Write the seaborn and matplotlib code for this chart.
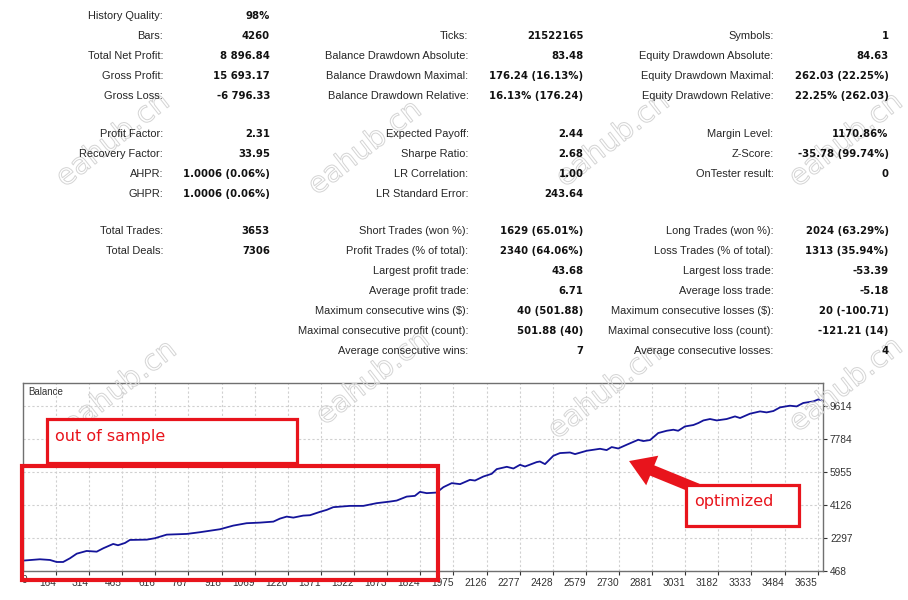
import matplotlib
matplotlib.use("Agg")
import matplotlib.pyplot as plt
import matplotlib.patheffects as pe
from matplotlib.patches import Rectangle, FancyArrowPatch
import pandas as pd
import seaborn as sns

# ---------------- data ----------------
trade_no = [0, 90, 136, 166, 196, 227, 258, 303, 349, 379, 424, 446, 478, 500, 577, 614,
            668, 759, 819, 911, 971, 1032, 1093, 1154, 1184, 1215, 1245, 1290, 1321, 1366,
            1397, 1427, 1503, 1564, 1625, 1685, 1716, 1762, 1799, 1822, 1853, 1898, 1929,
            1967, 2005, 2050, 2073, 2111, 2149, 2172, 2218, 2248, 2278, 2301, 2354, 2369,
            2392, 2430, 2460, 2506, 2529, 2582, 2643, 2673, 2696, 2726, 2764, 2817, 2840,
            2871, 2908, 2947, 2977, 2999, 3030, 3068, 3091, 3114, 3144, 3175, 3220, 3258,
            3281, 3326, 3372, 3402, 3433, 3463, 3508, 3539, 3569, 3615, 3638, 3653]
balance = [1030, 1117, 1078, 967, 967, 1172, 1427, 1577, 1538, 1726, 1965, 1893, 2020, 2186,
           2203, 2281, 2480, 2519, 2613, 2779, 2979, 3112, 3145, 3200, 3367, 3478, 3422,
           3533, 3555, 3738, 3849, 3999, 4071, 4071, 4221, 4309, 4365, 4586, 4625, 4847,
           4775, 4808, 5107, 5329, 5274, 5512, 5473, 5695, 5845, 6105, 6233, 6139, 6343,
           6249, 6493, 6527, 6382, 6842, 6992, 7025, 6936, 7120, 7230, 7158, 7325, 7247,
           7452, 7729, 7657, 7713, 8101, 8228, 8284, 8228, 8467, 8544, 8655, 8799, 8877,
           8799, 8877, 9021, 8932, 9170, 9298, 9243, 9320, 9520, 9614, 9575, 9764, 9852,
           9963, 9908]

x_tick_labels = [0, 164, 314, 465, 616, 767, 918, 1069, 1220, 1371, 1522, 1673, 1824,
                 1975, 2126, 2277, 2428, 2579, 2730, 2881, 3031, 3182, 3333, 3484, 3635]
y_tick_labels = [468, 2297, 4126, 5955, 7784, 9614]

# report rows: (label, value); None = empty row
report_col1 = [("History Quality:", "98%"), ("Bars:", "4260"),
               ("Total Net Profit:", "8 896.84"), ("Gross Profit:", "15 693.17"),
               ("Gross Loss:", "-6 796.33"),
               ("Profit Factor:", "2.31"), ("Recovery Factor:", "33.95"),
               ("AHPR:", "1.0006 (0.06%)"), ("GHPR:", "1.0006 (0.06%)"),
               ("Total Trades:", "3653"), ("Total Deals:", "7306"),
               None, None, None, None, None]
report_col2 = [None, ("Ticks:", "21522165"),
               ("Balance Drawdown Absolute:", "83.48"),
               ("Balance Drawdown Maximal:", "176.24 (16.13%)"),
               ("Balance Drawdown Relative:", "16.13% (176.24)"),
               ("Expected Payoff:", "2.44"), ("Sharpe Ratio:", "2.68"),
               ("LR Correlation:", "1.00"), ("LR Standard Error:", "243.64"),
               ("Short Trades (won %):", "1629 (65.01%)"),
               ("Profit Trades (% of total):", "2340 (64.06%)"),
               ("Largest profit trade:", "43.68"), ("Average profit trade:", "6.71"),
               ("Maximum consecutive wins ($):", "40 (501.88)"),
               ("Maximal consecutive profit (count):", "501.88 (40)"),
               ("Average consecutive wins:", "7")]
report_col3 = [None, ("Symbols:", "1"),
               ("Equity Drawdown Absolute:", "84.63"),
               ("Equity Drawdown Maximal:", "262.03 (22.25%)"),
               ("Equity Drawdown Relative:", "22.25% (262.03)"),
               ("Margin Level:", "1170.86%"), ("Z-Score:", "-35.78 (99.74%)"),
               ("OnTester result:", "0"), None,
               ("Long Trades (won %):", "2024 (63.29%)"),
               ("Loss Trades (% of total):", "1313 (35.94%)"),
               ("Largest loss trade:", "-53.39"), ("Average loss trade:", "-5.18"),
               ("Maximum consecutive losses ($):", "20 (-100.71)"),
               ("Maximal consecutive loss (count):", "-121.21 (14)"),
               ("Average consecutive losses:", "4")]

chart_title = "Balance"
note_oos = "out of sample"
note_opt = "optimized"
watermark = "eahub.cn"

# ---------------- layout ----------------
W, H = 908, 600
sns.set_theme(style="white")
plt.rcParams["font.family"] = ["Liberation Sans", "DejaVu Sans"]

fig = plt.figure(figsize=(W / 100, H / 100), dpi=100)
fig.patch.set_facecolor("white")


def fx(x):
    return x / W


def fy(y):
    return 1 - y / H


# ---------------- watermarks (faint outlines, behind everything) ----------------
for wx, wy in [(113, 140), (365, 148), (613, 140), (846, 140),
               (120, 388), (373, 378), (605, 392), (846, 385)]:
    fig.text(fx(wx), fy(wy), watermark, rotation=38, ha="center", va="center",
             fontsize=21, color="none", family=["DejaVu Sans"], zorder=0.5,
             path_effects=[pe.Stroke(linewidth=0.7, foreground="#d4d4d4")])

row_y = [15, 35, 55, 75, 95, 132.7, 152.7, 172.7, 192.7, 230, 250, 270, 290, 310, 330, 350]
col_pos = [(163, 270), (468.5, 583.5), (773.5, 888.5)]
for col, (lx, vx) in zip([report_col1, report_col2, report_col3], col_pos):
    for r, item in enumerate(col):
        if item is None:
            continue
        lab, val = item
        fig.text(fx(lx), fy(row_y[r]), lab, ha="right", va="center_baseline",
                 fontsize=7.9, color="#262626", family=["Liberation Sans"], zorder=3)
        fig.text(fx(vx), fy(row_y[r]), val, ha="right", va="center_baseline",
                 fontsize=7.3, color="#111111", fontweight="bold",
                 family=["DejaVu Sans"], zorder=3)

# ---------------- chart ----------------
ax_l, ax_r, ax_t, ax_b = 23, 823, 383.3, 571
ax = fig.add_axes([fx(ax_l), fy(ax_b), (ax_r - ax_l) / W, (ax_b - ax_t) / H])
ax.patch.set_alpha(0.0)
df = pd.DataFrame({"trade": trade_no, "balance": balance})
sns.lineplot(data=df, x="trade", y="balance", ax=ax, color="#14149a",
             linewidth=1.3, estimator=None, sort=True)
ax.set_xlim(13, 3659)
ax.set_ylim(468, 10853)
ax.set_xlabel("")
ax.set_ylabel("")

ax.set_xticks(x_tick_labels[1:])
ax.set_xticklabels([str(v) for v in x_tick_labels[1:]], ha="right")
ax.set_yticks(y_tick_labels)
ax.set_yticklabels([str(v) for v in y_tick_labels])
ax.yaxis.tick_right()
ax.tick_params(axis="x", direction="out", length=3, width=0.8, pad=2,
               labelsize=7.3, colors="#333333", bottom=True)
ax.tick_params(axis="y", direction="out", length=3, width=0.8, pad=2,
               labelsize=7.3, colors="#333333", right=True, left=False)
ax.text(fx(22), fy(580), str(x_tick_labels[0]), transform=fig.transFigure,
        ha="left", va="center", fontsize=7.3, color="#333333")
ax.grid(True, color="#d0d0d0", linestyle=(0, (2, 2)), linewidth=0.8)
for s in ax.spines.values():
    s.set_color("#707070")
    s.set_linewidth(1.0)
ax.text(0.006, 0.955, chart_title, transform=ax.transAxes, ha="left", va="center",
        fontsize=7, color="#333333")

# ---------------- annotations ----------------
red = "#e8141c"

arrow = FancyArrowPatch((fx(700), fy(490)), (fx(626.5), fy(460)),
                        transform=fig.transFigure,
                        arrowstyle="simple,head_width=2.3,head_length=1.8,tail_width=0.8",
                        mutation_scale=10, color=red, linewidth=0, zorder=8)
fig.add_artist(arrow)


def box(x0, y0, x1, y1, lw, fill, z):
    fig.add_artist(Rectangle((fx(x0), fy(y1)), (x1 - x0) / W, (y1 - y0) / H,
                             transform=fig.transFigure,
                             facecolor="white" if fill else "none",
                             edgecolor=red, linewidth=lw, zorder=z))


box(47, 418.5, 297, 462.5, 2.3, True, 9)
box(21.5, 466, 437.5, 579.5, 3.0, False, 9)
box(686, 484.5, 799, 526, 2.3, True, 9)

fig.text(fx(55), fy(436), note_oos, ha="left", va="center", fontsize=11.5,
         color=red, family=["DejaVu Sans"], zorder=10)
fig.text(fx(694), fy(501.5), note_opt, ha="left", va="center", fontsize=11.5,
         color=red, family=["DejaVu Sans"], zorder=10)

fig.savefig("out.png", dpi=100, facecolor="white")
